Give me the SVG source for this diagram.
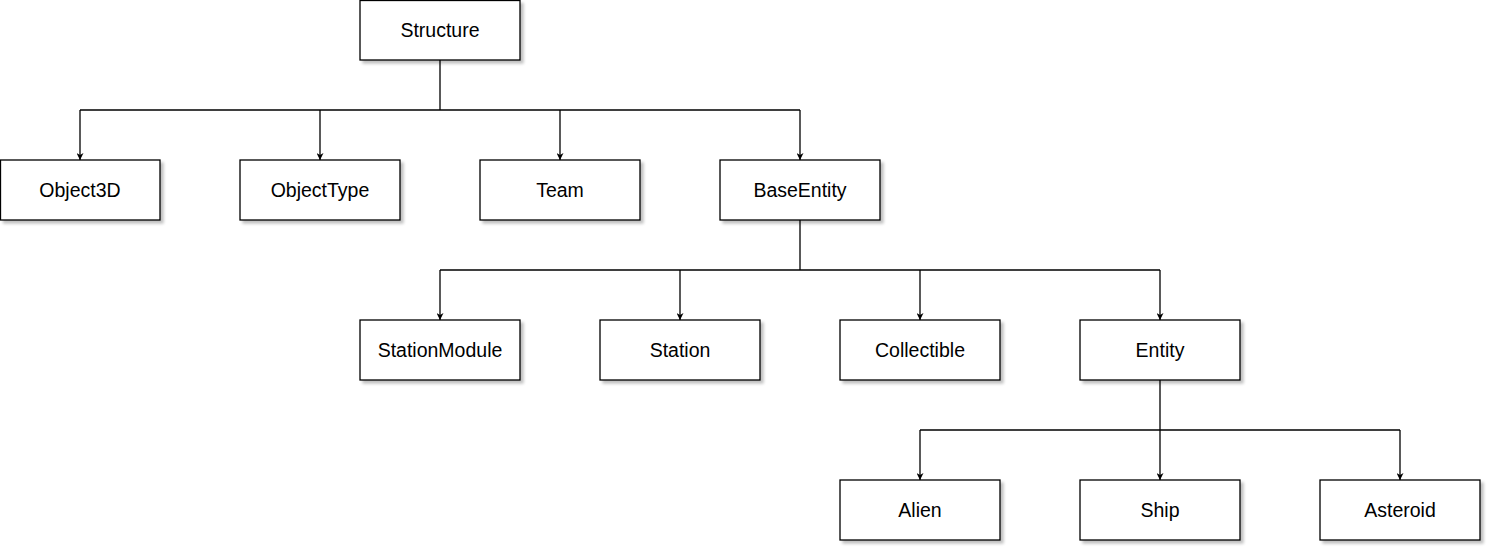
<svg xmlns="http://www.w3.org/2000/svg" width="1493" height="552" viewBox="0 0 1493 552">
<defs>
<filter id="sh" x="-10%" y="-10%" width="130%" height="140%">
<feGaussianBlur in="SourceAlpha" stdDeviation="1.5"/>
<feOffset dx="3" dy="3" result="b"/>
<feComponentTransfer><feFuncA type="linear" slope="0.25"/></feComponentTransfer>
<feMerge><feMergeNode/><feMergeNode in="SourceGraphic"/></feMerge>
</filter>
<marker id="arr" viewBox="0 0 10 10" refX="10" refY="5" markerWidth="7" markerHeight="7" markerUnits="userSpaceOnUse" orient="auto">
<path d="M0,0 L10,5 L0,10 L3,5 Z" fill="#000"/>
</marker>
</defs>
<style>
rect.n{fill:#fff;stroke:#000;stroke-width:1.3;filter:url(#sh)}
text{font-family:"Liberation Sans",Arial,sans-serif;font-size:19.5px;fill:#000;text-anchor:middle}
.c{fill:none;stroke:#000;stroke-width:1.3}
.a{marker-end:url(#arr)}
</style>
<rect width="1493" height="552" fill="#fff"/>
<g id="connectors">
<path class="c" d="M440,60 V110 M80,110 H800"/>
<path class="c a" d="M80,110 V160"/>
<path class="c a" d="M320,110 V160"/>
<path class="c a" d="M560,110 V160"/>
<path class="c a" d="M800,110 V160"/>
<path class="c" d="M800,220 V270 M440,270 H1160"/>
<path class="c a" d="M440,270 V320"/>
<path class="c a" d="M680,270 V320"/>
<path class="c a" d="M920,270 V320"/>
<path class="c a" d="M1160,270 V320"/>
<path class="c" d="M1160,380 V430 M920,430 H1400"/>
<path class="c a" d="M920,430 V480"/>
<path class="c a" d="M1160,430 V480"/>
<path class="c a" d="M1400,430 V480"/>
</g>
<g id="Structure"><rect class="n" x="360" y="0.5" width="160" height="59.5"/><text x="440" y="37">Structure</text></g>
<g id="Object3D"><rect class="n" x="0.5" y="160" width="159.5" height="60"/><text x="80" y="197">Object3D</text></g>
<g id="ObjectType"><rect class="n" x="240" y="160" width="160" height="60"/><text x="320" y="197">ObjectType</text></g>
<g id="Team"><rect class="n" x="480" y="160" width="160" height="60"/><text x="560" y="197">Team</text></g>
<g id="BaseEntity"><rect class="n" x="720" y="160" width="160" height="60"/><text x="800" y="197">BaseEntity</text></g>
<g id="StationModule"><rect class="n" x="360" y="320" width="160" height="60"/><text x="440" y="357">StationModule</text></g>
<g id="Station"><rect class="n" x="600" y="320" width="160" height="60"/><text x="680" y="357">Station</text></g>
<g id="Collectible"><rect class="n" x="840" y="320" width="160" height="60"/><text x="920" y="357">Collectible</text></g>
<g id="Entity"><rect class="n" x="1080" y="320" width="160" height="60"/><text x="1160" y="357">Entity</text></g>
<g id="Alien"><rect class="n" x="840" y="480" width="160" height="60"/><text x="920" y="517">Alien</text></g>
<g id="Ship"><rect class="n" x="1080" y="480" width="160" height="60"/><text x="1160" y="517">Ship</text></g>
<g id="Asteroid"><rect class="n" x="1320" y="480" width="160" height="60"/><text x="1400" y="517">Asteroid</text></g>
</svg>
